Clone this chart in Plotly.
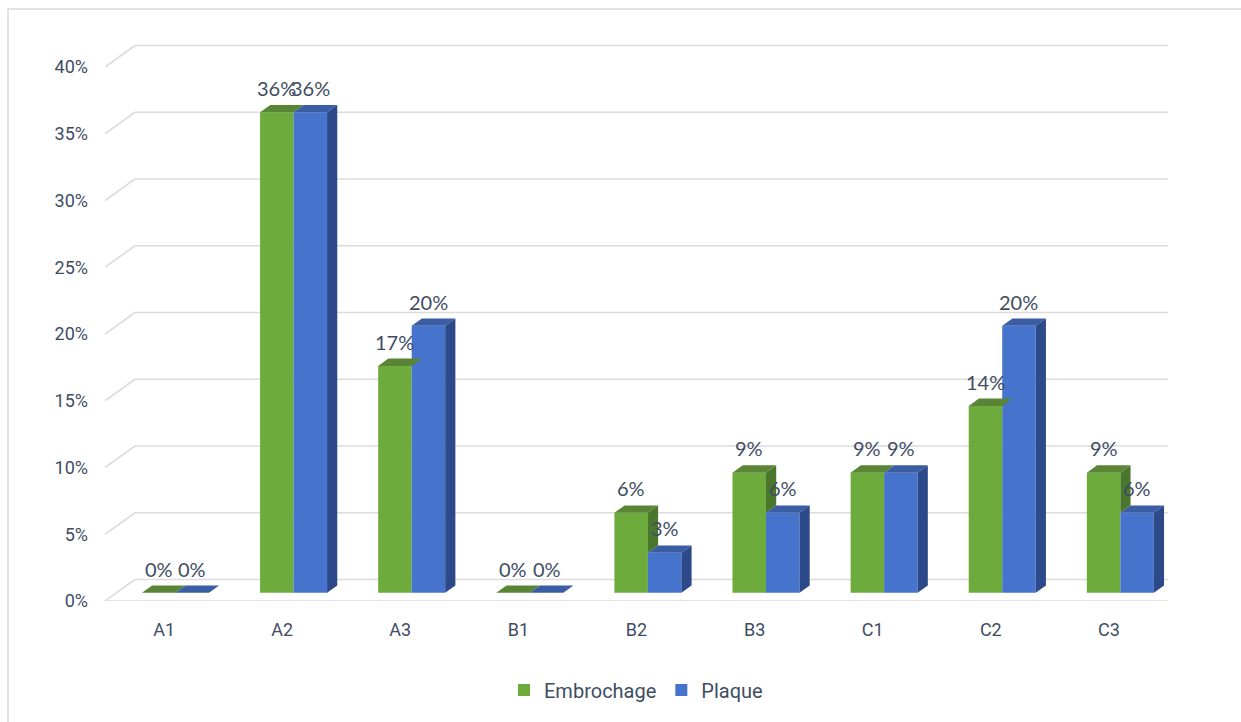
import plotly.graph_objects as go

# ---- data -------------------------------------------------------------
categories = ["A1", "A2", "A3", "B1", "B2", "B3", "C1", "C2", "C3"]
embrochage = [0, 36, 17, 0, 6, 9, 9, 14, 9]
plaque = [0, 36, 20, 0, 3, 6, 9, 20, 6]
series_names = ["Embrochage", "Plaque"]
y_ticks = [0, 5, 10, 15, 20, 25, 30, 35, 40]

# ---- layout geometry --------------------------------------------------
W, H = 1241, 722
ML, MR, MT, MB = 105, 73, 30, 121
PLOT_W = W - ML - MR
PLOT_H = H - MT - MB
PX_PER_CAT = PLOT_W / 9.0
PX_PER_PCT = 13.35
Y_MAX = PLOT_H / PX_PER_PCT

# pseudo-3D depth: full depth of the floor, expressed in axis units
DX = 30 / PX_PER_CAT
DY = 21.5 / PX_PER_PCT
F0, F1 = 0.38, 0.72          # bar front / back depth fractions
BW = 33.5 / PX_PER_CAT       # width of one bar

GREEN = dict(front="#6cab3c", top="#5a8536", side="#4a772c")
BLUE = dict(front="#4674cc", top="#3a5da3", side="#2c4989")
GRID = "#dcdcdc"
TXT = "#3f4d63"


def pt(x, y, d):
    """Project a point at depth fraction d onto the chart plane."""
    return x + d * DX, y + d * DY


def poly(points):
    xs, ys = [], []
    for x, y in points:
        xs.append(x)
        ys.append(y)
    xs.append(points[0][0])
    ys.append(points[0][1])
    return xs, ys


fig = go.Figure()

# front faces of the bars
for name, vals, col, sign in [(series_names[0], embrochage, GREEN, -1),
                              (series_names[1], plaque, BLUE, 1)]:
    fig.add_trace(go.Bar(
        name=name,
        x=[i + F0 * DX + sign * BW / 2 for i in range(len(categories))],
        y=vals,
        base=F0 * DY,
        width=BW,
        marker=dict(color=col["front"], line=dict(width=0)),
        hoverinfo="skip",
    ))


def face_trace(polys, color):
    xs, ys = [], []
    for p in polys:
        px, py = poly(p)
        xs += px + [None]
        ys += py + [None]
    return go.Scatter(x=xs, y=ys, mode="lines", fill="toself",
                      fillcolor=color, line=dict(width=0, color=color),
                      showlegend=False, hoverinfo="skip")


green_side, green_top, blue_side, blue_top = [], [], [], []
for i, (vg, vb) in enumerate(zip(embrochage, plaque)):
    xl = i - BW
    xm = i
    xr = i + BW
    # green right face: only the part rising above the blue bar is visible
    if vg > vb:
        green_side.append([pt(xm, vb, F0), pt(xm, vb, F1),
                           pt(xm, vg, F1), pt(xm, vg, F0)])
    green_top.append([pt(xl, vg, F0), pt(xm, vg, F0),
                      pt(xm, vg, F1), pt(xl, vg, F1)])
    blue_top.append([pt(xm, vb, F0), pt(xr, vb, F0),
                     pt(xr, vb, F1), pt(xm, vb, F1)])
    blue_side.append([pt(xr, 0, F0), pt(xr, 0, F1),
                      pt(xr, vb, F1), pt(xr, vb, F0)])

fig.add_trace(face_trace(green_side, GREEN["side"]))
fig.add_trace(face_trace(green_top, GREEN["top"]))
fig.add_trace(face_trace(blue_top, BLUE["top"]))
fig.add_trace(face_trace(blue_side, BLUE["side"]))

# back-wall gridlines with their short diagonal on the left wall
shapes = []
x_left, x_right = -0.5, 8.5
for v in y_ticks:
    shapes.append(dict(type="line", xref="x", yref="y", layer="below",
                       x0=x_left + DX, y0=v + DY, x1=x_right + DX, y1=v + DY,
                       line=dict(color=GRID, width=1.6)))
    shapes.append(dict(type="line", xref="x", yref="y", layer="below",
                       x0=x_left, y0=v, x1=x_left + DX, y1=v + DY,
                       line=dict(color=GRID, width=1.6)))
# front edge of the floor
shapes.append(dict(type="line", xref="x", yref="y", layer="below",
                   x0=x_left, y0=0, x1=x_right, y1=0,
                   line=dict(color=GRID, width=1.6)))
shapes.append(dict(type="line", xref="x", yref="y", layer="below",
                   x0=x_right, y0=0, x1=x_right + DX, y1=DY,
                   line=dict(color="#ececec", width=1.2)))


# chart frame
def px_to_paper_x(px):
    return (px - ML) / PLOT_W


def px_to_paper_y(py):
    return (H - MB - py) / PLOT_H


shapes.append(dict(type="rect", xref="paper", yref="paper", layer="below",
                   x0=px_to_paper_x(8), y0=px_to_paper_y(H + 10),
                   x1=px_to_paper_x(W + 10), y1=px_to_paper_y(9),
                   line=dict(color="#d9d9d9", width=1.5)))

# value labels
annotations = []
for i, (vg, vb) in enumerate(zip(embrochage, plaque)):
    for v, cx in [(vg, i + F0 * DX - BW / 2), (vb, i + F0 * DX + BW / 2)]:
        annotations.append(dict(
            x=cx, y=v + F1 * DY, xref="x", yref="y",
            text=f"{v}%", showarrow=False, yanchor="bottom", yshift=3,
            font=dict(family="Lato, Roboto, sans-serif", size=20, color=TXT)))

fig.update_layout(
    width=W, height=H,
    margin=dict(l=ML, r=MR, t=MT, b=MB),
    paper_bgcolor="white", plot_bgcolor="white",
    barmode="overlay",
    shapes=shapes,
    annotations=annotations,
    showlegend=True,
    legend=dict(orientation="h", x=px_to_paper_x(636), y=px_to_paper_y(690),
                xanchor="center", yanchor="middle",
                font=dict(family="Roboto, sans-serif", size=20, color=TXT),
                itemwidth=30, tracegroupgap=0),
    xaxis=dict(range=[x_left, x_right], tickmode="array",
               tickvals=list(range(len(categories))), ticktext=categories,
               showgrid=False, zeroline=False, showline=False, ticks="",
               ticklabelstandoff=16,
               tickfont=dict(family="Roboto, sans-serif", size=18, color=TXT),
               fixedrange=True),
    yaxis=dict(range=[0, Y_MAX], tickmode="array", tickvals=y_ticks,
               ticktext=[f"{v}%" for v in y_ticks],
               showgrid=False, zeroline=False, showline=False, ticks="",
               ticklabelstandoff=16,
               tickfont=dict(family="Roboto, sans-serif", size=18, color=TXT),
               fixedrange=True),
)

fig.write_html("out.html")
